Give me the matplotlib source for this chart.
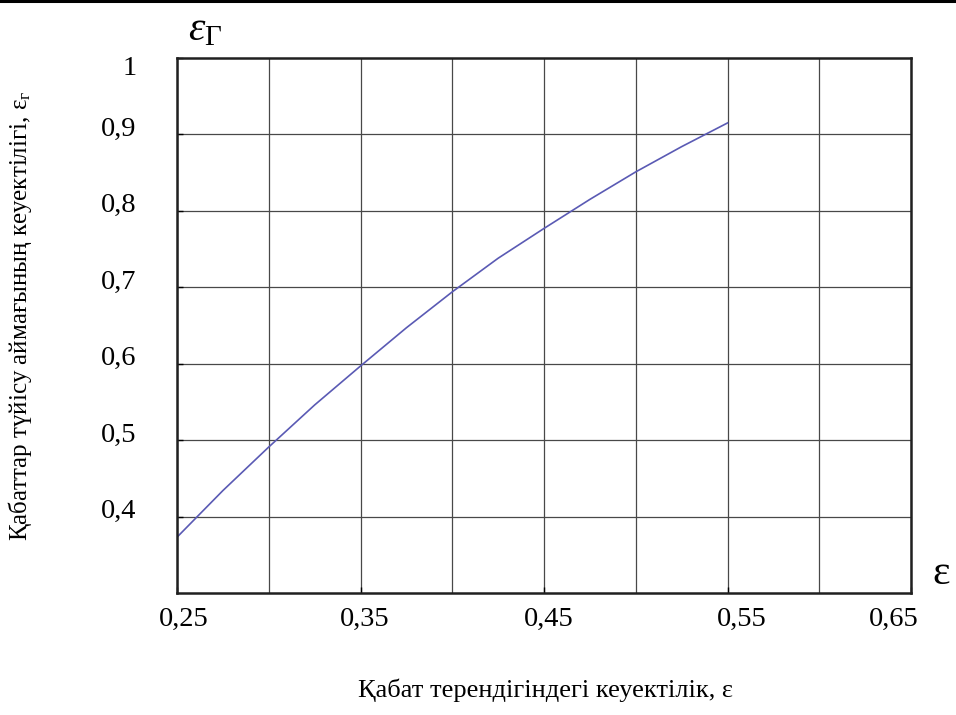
import matplotlib
matplotlib.use("Agg")
import matplotlib.pyplot as plt
from matplotlib.lines import Line2D
from matplotlib.transforms import ScaledTranslation

# Data
porosity = [0.25, 0.275, 0.30, 0.325, 0.35, 0.375, 0.40, 0.425, 0.45, 0.475, 0.50, 0.525, 0.55]
contact_porosity = [0.373, 0.434, 0.491, 0.546, 0.597, 0.647, 0.694, 0.738, 0.777, 0.815, 0.851, 0.884, 0.915]

x_ticks = [0.25, 0.35, 0.45, 0.55, 0.65]
x_tick_labels = ["0,25", "0,35", "0,45", "0,55", "0,65"]
x_grid = [0.25, 0.30, 0.35, 0.40, 0.45, 0.50, 0.55, 0.60, 0.65]
y_ticks = [0.4, 0.5, 0.6, 0.7, 0.8, 0.9, 1.0]
y_tick_labels = ["0,4", "0,5", "0,6", "0,7", "0,8", "0,9", "1"]
y_grid = [0.4, 0.5, 0.6, 0.7, 0.8, 0.9]

x_label = "Қабат терендігіндегі кеуектілік, ε"
y_label = "Қабаттар түйісу аймағының кеуектілігі, ε$_{\\mathrm{г}}$"

plt.rcParams['font.family'] = ['Liberation Serif', 'DejaVu Serif']
plt.rcParams['mathtext.fontset'] = 'custom'
plt.rcParams['mathtext.rm'] = 'Liberation Serif'
plt.rcParams['mathtext.it'] = 'Liberation Serif:italic'
plt.rcParams['mathtext.bf'] = 'Liberation Serif:bold'

fig = plt.figure(figsize=(9.56, 7.15), dpi=100)
ax = fig.add_axes([177/956, 1 - 593/715, (911 - 177)/956, (593 - 58)/715])

ax.plot(porosity, contact_porosity, color='#5a5ab4', lw=1.2)

ax.set_xlim(0.25, 0.65)
ax.set_ylim(0.3, 1.0)

for gx in x_grid:
    ax.axvline(gx, color='#484848', lw=0.9, zorder=0)
for gy in y_grid:
    ax.axhline(gy, color='#484848', lw=0.9, zorder=0)

ax.set_xticks(x_ticks)
ax.set_xticklabels(x_tick_labels, fontsize=20.5)
ax.set_yticks(y_ticks)
ax.set_yticklabels(y_tick_labels, fontsize=20.5)
ax.tick_params(axis='both', direction='in', length=4, width=1)
ax.tick_params(axis='x', pad=10)
ax.tick_params(axis='y', pad=29)

# small hand-placement offsets of the labels seen in the reference (pixels)
x_label_shift = [7, 4, 5, 14, -17]
for lbl, dx in zip(ax.get_xticklabels(), x_label_shift):
    lbl.set_transform(lbl.get_transform() + ScaledTranslation(dx/100, 0, fig.dpi_scale_trans))
for lbl, val in zip(ax.get_yticklabels(), y_ticks):
    dy = -8 if val >= 1.0 else 8
    lbl.set_transform(lbl.get_transform() + ScaledTranslation(0, dy/100, fig.dpi_scale_trans))

for s in ax.spines.values():
    s.set_linewidth(1.8)
    s.set_color('#202020')

fig.text(545/956, 1 - 690/715, x_label, fontsize=19, ha='center', va='center')
fig.text(20/956, 1 - 316/715, y_label, fontsize=18, ha='center', va='center', rotation=90)

fig.text(941/956, 1 - 574/715, "ε", fontsize=30, ha='center', va='center')
fig.text(188/956, 1 - 30/715, r"$\varepsilon_{\mathrm{Γ}}$", fontsize=30, ha='left', va='center')

fig.add_artist(Line2D([0, 1], [1 - 1/715, 1 - 1/715], transform=fig.transFigure, color='black', lw=2.2))

fig.savefig("out.png", dpi=100)
